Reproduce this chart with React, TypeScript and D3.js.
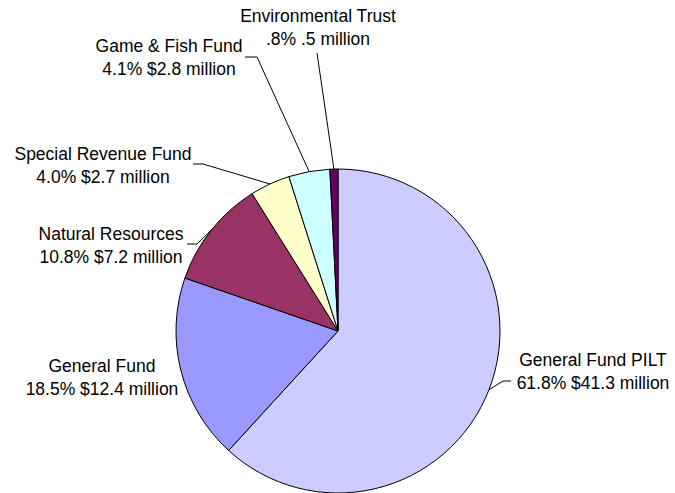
import { useEffect, useRef } from "react";
import * as d3 from "d3";

// Revenue by fund, clockwise from 12 o'clock
const funds = [
  "General Fund PILT",
  "General Fund",
  "Natural Resources",
  "Special Revenue Fund",
  "Game & Fish Fund",
  "Environmental Trust",
];
const percents = [61.8, 18.5, 10.8, 4.0, 4.1, 0.8];
const amountLabels = [
  "61.8% $41.3 million",
  "18.5% $12.4 million",
  "10.8% $7.2 million",
  "4.0% $2.7 million",
  "4.1% $2.8 million",
  ".8% .5 million",
];
const colors = ["#CCCCFF", "#9999FF", "#993366", "#FFFFCC", "#CCFFFF", "#660066"];

// label layout: center x, first baseline y, optional leader elbow/end
const labelLayout: { x: number; y: number; leader?: [number, number][] }[] = [
  { x: 593, y: 366, leader: [[503, 381], [511, 381]] },
  { x: 102, y: 372 },
  { x: 111, y: 240, leader: [[197, 244], [187, 244]] },
  { x: 103, y: 160, leader: [[203, 164], [193, 164]] },
  { x: 169, y: 52, leader: [[257, 57], [245, 57]] },
  { x: 318, y: 22, leader: [[317, 53]] },
];

const App = () => {
  const svgRef = useRef<SVGSVGElement>(null);

  useEffect(() => {
    if (!svgRef.current) return;
    document.body.style.margin = "0";

    const width = 675;
    const height = 493;
    const cx = 338;
    const cy = 331;
    const radius = 162;

    const svg = d3.select(svgRef.current);
    svg.selectAll("*").remove();
    svg.attr("width", width).attr("height", height);

    svg.append("rect")
      .attr("width", width)
      .attr("height", height)
      .attr("fill", "#ffffff");

    const pie = d3.pie<number>().sort(null).value(d => d);
    const arcs = pie(percents);
    const arc = d3.arc<d3.PieArcDatum<number>>().innerRadius(0).outerRadius(radius);
    const edge = d3.arc<d3.PieArcDatum<number>>().innerRadius(radius).outerRadius(radius);

    const g = svg.append("g").attr("transform", `translate(${cx},${cy})`);

    g.selectAll(".slice")
      .data(arcs)
      .join("path")
      .attr("class", "slice")
      .attr("d", arc)
      .attr("fill", (_, i) => colors[i])
      .attr("stroke", "#000")
      .attr("stroke-width", 1)
      .attr("stroke-linejoin", "round");

    // Leader lines from slice edge to label
    arcs.forEach((a, i) => {
      const lay = labelLayout[i];
      if (!lay.leader) return;
      const [ex, ey] = edge.centroid(a);
      const pts: [number, number][] = [[cx + ex, cy + ey], ...lay.leader];
      svg.append("path")
        .attr("d", d3.line()(pts))
        .attr("fill", "none")
        .attr("stroke", "#000")
        .attr("stroke-width", 1);
    });

    // Labels
    funds.forEach((name, i) => {
      const lay = labelLayout[i];
      const t = svg.append("text")
        .attr("text-anchor", "middle")
        .style("font-family", "'Liberation Sans', Arial, sans-serif")
        .style("font-size", "17.5px")
        .style("fill", "#000");
      t.append("tspan").attr("x", lay.x).attr("y", lay.y).text(name);
      t.append("tspan").attr("x", lay.x).attr("y", lay.y + 22.5).text(amountLabels[i]);
    });
  }, []);

  return (
    <div style={{ position: "absolute", left: 0, top: 0 }}>
      <svg ref={svgRef} style={{ display: "block" }}></svg>
    </div>
  );
};

export default App;
